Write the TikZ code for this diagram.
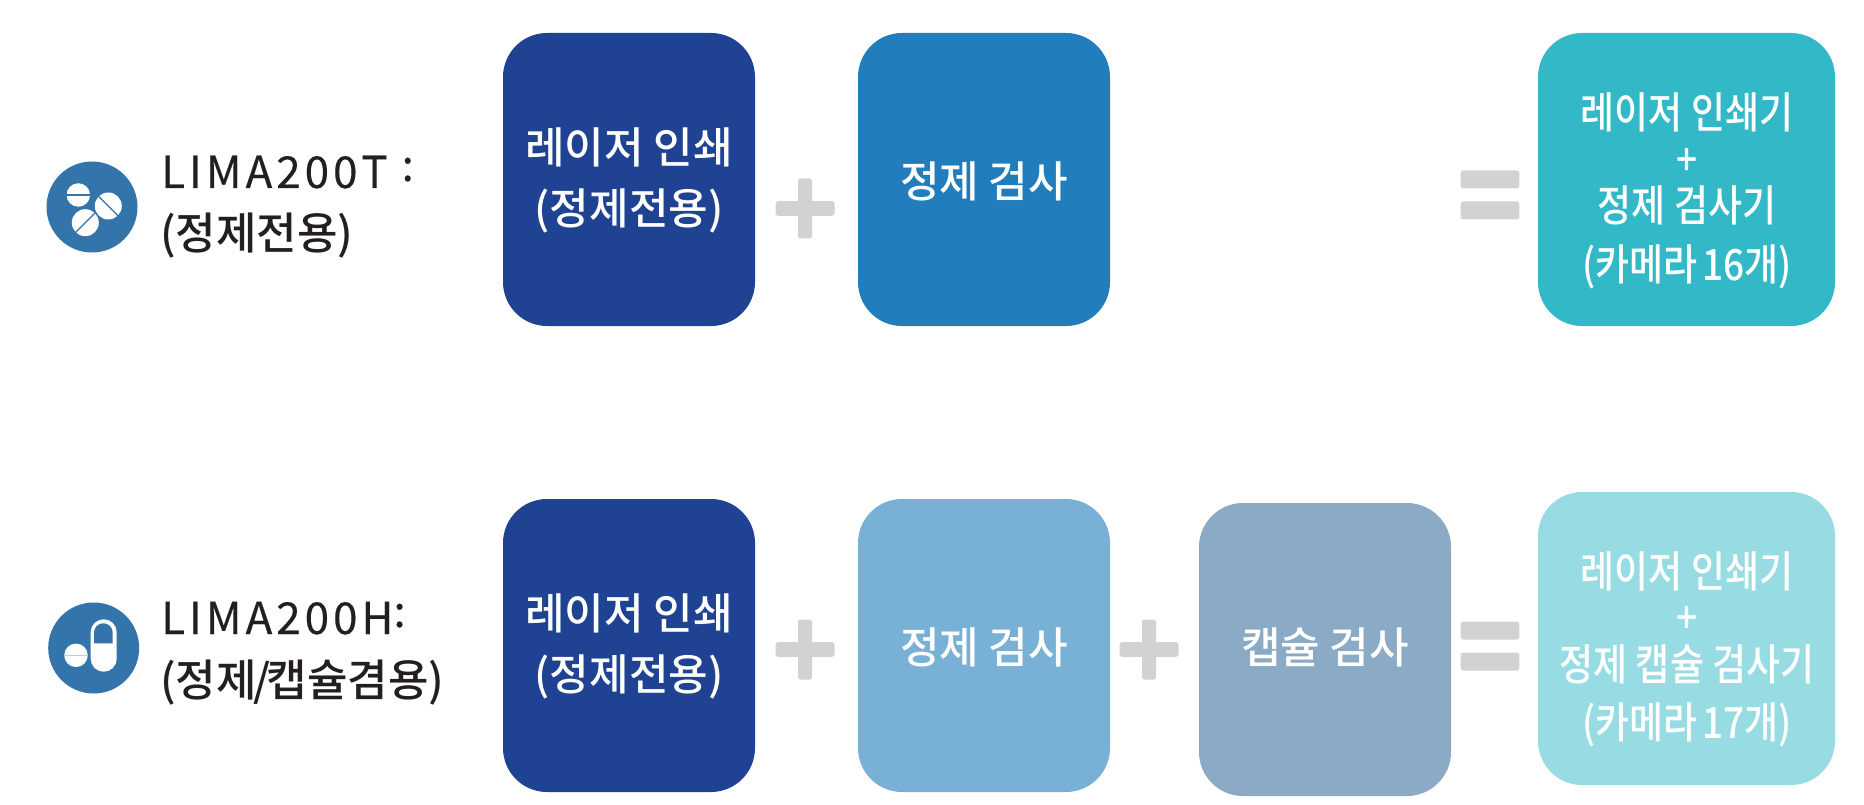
\documentclass[tikz,border=0pt]{standalone}
\usepackage{fontspec}
\setmainfont{Noto Sans CJK KR}
\newfontfamily\boxfont[UprightFont=* Medium]{Noto Sans CJK KR}
\newfontfamily\resfont[UprightFont=* Medium,FakeStretch=0.86]{Noto Sans CJK KR}
\newfontfamily\latfont[LetterSpace=9,FakeBold=0.3]{Noto Sans CJK KR}
\newfontfamily\kindfont[UprightFont=* Medium]{Noto Sans CJK KR}
\definecolor{navy}{HTML}{204293}
\definecolor{midblue}{HTML}{217DBB}
\definecolor{skyblue}{HTML}{79B0D6}
\definecolor{slateblue}{HTML}{8BAAC6}
\definecolor{tealbox}{HTML}{33B8C8}
\definecolor{paleteal}{HTML}{98DCE3}
\definecolor{signgray}{HTML}{D1D2D4}
\definecolor{iconblue}{HTML}{3375AB}
\definecolor{inkdark}{HTML}{231F20}
\tikzset{
  x=1pt,y=-1pt,
  card/.style={rounded corners=44pt,minimum width=252pt,minimum height=293pt,inner sep=0pt,outer sep=0pt},
  rescard/.style={card,minimum width=297pt},
  cardtext/.style={text=white,font={\fontsize{43}{61}\boxfont},align=center,inner sep=0pt},
  restext/.style={text=white,font={\fontsize{43}{46.5}\resfont},align=center,inner sep=0pt},
  modeltext/.style={text=inkdark,font={\fontsize{44}{58}\latfont},anchor=base west,inner sep=0pt},
  kindtext/.style={text=inkdark,font={\fontsize{44}{58}\kindfont},anchor=base west,inner sep=0pt},
  signbar/.style={fill=signgray,rounded corners=2.5pt},
  iconbg/.style={circle,fill=iconblue,minimum size=91pt,inner sep=0pt},
  tablet/.style={circle,fill=white,inner sep=0pt},
  score/.style={iconblue,line width=1.2pt},
}
\newcommand{\plussign}[2]{%
  \fill[signbar] (#1-29.5,#2-7.3) rectangle (#1+29.5,#2+7.3);
  \fill[signbar] (#1-7,#2-30) rectangle (#1+7,#2+30);}
\newcommand{\equalsign}[2]{%
  \fill[signbar] (#1-29.3,#2-24.5) rectangle (#1+29.3,#2-6.5);
  \fill[signbar] (#1-29.3,#2+6.5) rectangle (#1+29.3,#2+24.5);}
\newcommand{\upcolon}{\raisebox{7pt}{:}}
\begin{document}
\begin{tikzpicture}
\useasboundingbox[fill=white] (0,0) rectangle (1864,805);
% cards, top row
\node[card,fill=navy] (laserA) at (629,179.5) {};
\node[card,fill=midblue] (tabA) at (984,179.5) {};
\node[rescard,fill=tealbox] (resA) at (1686.5,179.5) {};
% cards, bottom row
\node[card,fill=navy] (laserB) at (629,645.5) {};
\node[card,fill=skyblue] (tabB) at (984,645.5) {};
\node[card,fill=slateblue] (capB) at (1325,649.5) {};
\node[rescard,fill=paleteal] (resB) at (1686.5,638.5) {};
% card labels
\node[cardtext] (laserAt) at (629,180) {레이저 인쇄\\(정제전용)};
\node[cardtext] (tabAt) at (984,181) {정제 검사};
\node[restext] (resAt) at (1687,191) {레이저 인쇄기\\+\\정제 검사기\\[12pt](카메라\kern-4pt{} 16개)};
\node[cardtext] (laserBt) at (629,646) {레이저 인쇄\\(정제전용)};
\node[cardtext] (tabBt) at (984,647) {정제 검사};
\node[cardtext] (capBt) at (1325,647) {캡슐 검사};
\node[restext] (resBt) at (1687,649.5) {레이저 인쇄기\\+\\정제 캡슐 검사기\\[12pt](카메라\kern-4pt{} 17개)};
% signs
\plussign{805}{208.5}
\equalsign{1490}{195}
\plussign{805}{649.5}
\plussign{1149}{649.5}
\equalsign{1490}{646}
% side labels
\node[modeltext] (modelA) at (161,188) {LIMA200T \upcolon};
\node[kindtext] (kindA) at (160,250) {(정제전용)};
\node[modeltext] (modelB) at (161,634) {LIMA200H\upcolon};
\node[kindtext] (kindB) at (160,696) {(정제\kern-3.5pt/\kern-3.5pt캡슐겸용)};
% icon, tablets
\node[iconbg] (iconA) at (92,207) {};
\node[tablet,minimum size=23.5pt] (t1) at (78.3,195) {};
\node[tablet,minimum size=27pt] (t2) at (108.3,206) {};
\node[tablet,minimum size=27pt] (t3) at (85.3,222.7) {};
\draw[score] (t1.west) -- (t1.east);
\draw[score] (t2.north west) -- (t2.south east);
\draw[score] (t3.south west) -- (t3.north east);
% icon, capsule
\node[iconbg] (iconB) at (93.7,648) {};
\node[tablet,minimum size=23.5pt] (t4) at (76,655.3) {};
\draw[color=iconblue!35,line width=1.2pt] (t4.west) -- (t4.east);
\fill[white,rounded corners=12.9pt] (90.7,619.3) rectangle (116.7,671.7);
\fill[iconblue] (94,643.3) -- (94,632.6) arc[start angle=180,end angle=360,x radius=9.35,y radius=9.35] -- (112.7,643.3) -- cycle;
\end{tikzpicture}
\end{document}
